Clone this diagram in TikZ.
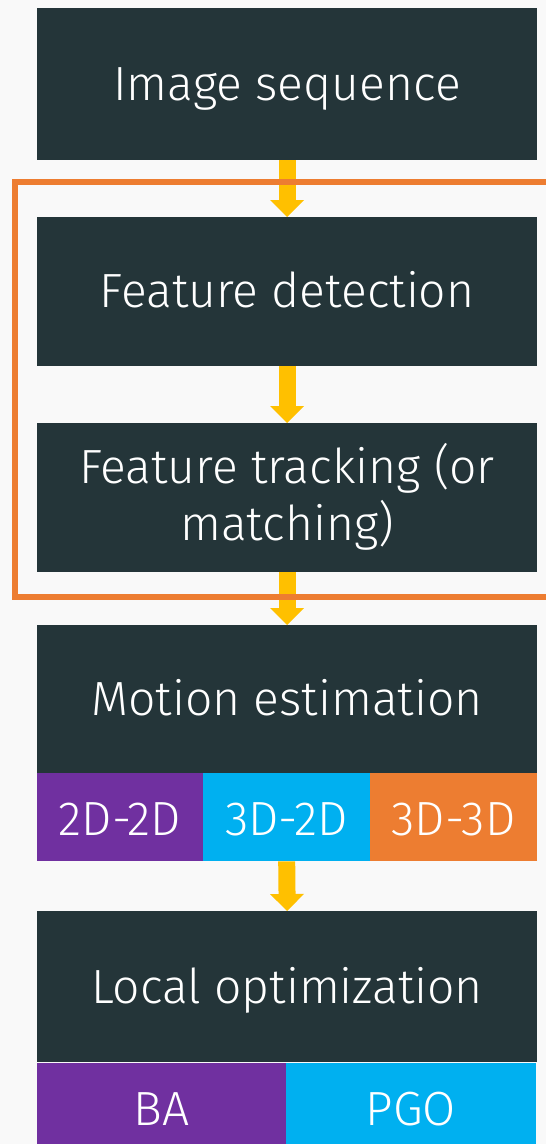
\documentclass[tikz,border=0pt]{standalone}
\usepackage{fontspec}
\setmainfont{Fira Sans}[UprightFont=* Light]
\usetikzlibrary{arrows.meta}
\definecolor{bgc}{HTML}{F9F9F9}
\definecolor{darkbox}{HTML}{243539}
\definecolor{ora}{HTML}{ED7D31}
\definecolor{yel}{HTML}{FFC000}
\definecolor{pur}{HTML}{7030A0}
\definecolor{cya}{HTML}{00B0F0}
\tikzset{
  box/.style={draw=none, fill=darkbox, inner sep=0pt, anchor=north west, minimum width=500pt},
  strip/.style={draw=none, inner sep=0pt, anchor=north west},
  lbl/.style={text=white, inner sep=0pt, anchor=base, font=\fontsize{48}{48}\selectfont},
  flow/.style={draw=yel, line width=17pt, -{Triangle[width=33pt,length=17pt]}},
  bracket/.style={draw=ora, line width=6pt, line cap=butt, line join=miter}
}
\begin{document}
\begin{tikzpicture}[x=1pt,y=-1pt]
\fill[bgc] (0,0) rectangle (546,1144);
\useasboundingbox (0,0) rectangle (546,1144);
% boxes
\node[box, minimum height=152pt] (b1) at (37,8) {};
\node[box, minimum height=149pt] (b2) at (37,217) {};
\node[box, minimum height=149pt] (b3) at (37,423) {};
\node[box, minimum height=148pt] (b4) at (37,625) {};
\node[strip, fill=pur, minimum width=166pt, minimum height=88pt] (s1) at (37,773) {};
\node[strip, fill=cya, minimum width=167pt, minimum height=88pt] (s2) at (203,773) {};
\node[strip, fill=ora, minimum width=167pt, minimum height=88pt] (s3) at (370,773) {};
\node[box, minimum height=151pt] (b5) at (37,911) {};
\node[strip, fill=pur, minimum width=249pt, minimum height=81pt] (p1) at (37,1063) {};
\node[strip, fill=cya, minimum width=250pt, minimum height=81pt] (p2) at (286,1063) {};
% labels
\node[lbl] (t1) at (287,100) {Image sequence};
\node[lbl] (t2) at (287,307) {Feature detection};
\node[lbl] (t3a) at (287,483) {Feature tracking (or};
\node[lbl] (t3b) at (287,540) {matching)};
\node[lbl] (t4) at (287,715) {Motion estimation};
\node[lbl] (ts1) at (120,835) {2D-2D};
\node[lbl] (ts2) at (286.5,835) {3D-2D};
\node[lbl] (ts3) at (453.5,835) {3D-3D};
\node[lbl] (t5) at (287,1003) {Local optimization};
\node[lbl] (tp1) at (161.5,1125) {BA};
\node[lbl] (tp2) at (411,1125) {PGO};
% arrows
\draw[flow] (b1.south) -- (b2.north);
\draw[flow] (b2.south) -- (b3.north);
\draw[flow] (b3.south) -- (b4.north);
\draw[flow] (s2.south) -- (b5.north);
% orange bracket
\coordinate (bt) at (546,182);
\coordinate (bb) at (546,597);
\draw[bracket] (bt) -- (15,182) -- (15,597) -- (bb);
\end{tikzpicture}
\end{document}
